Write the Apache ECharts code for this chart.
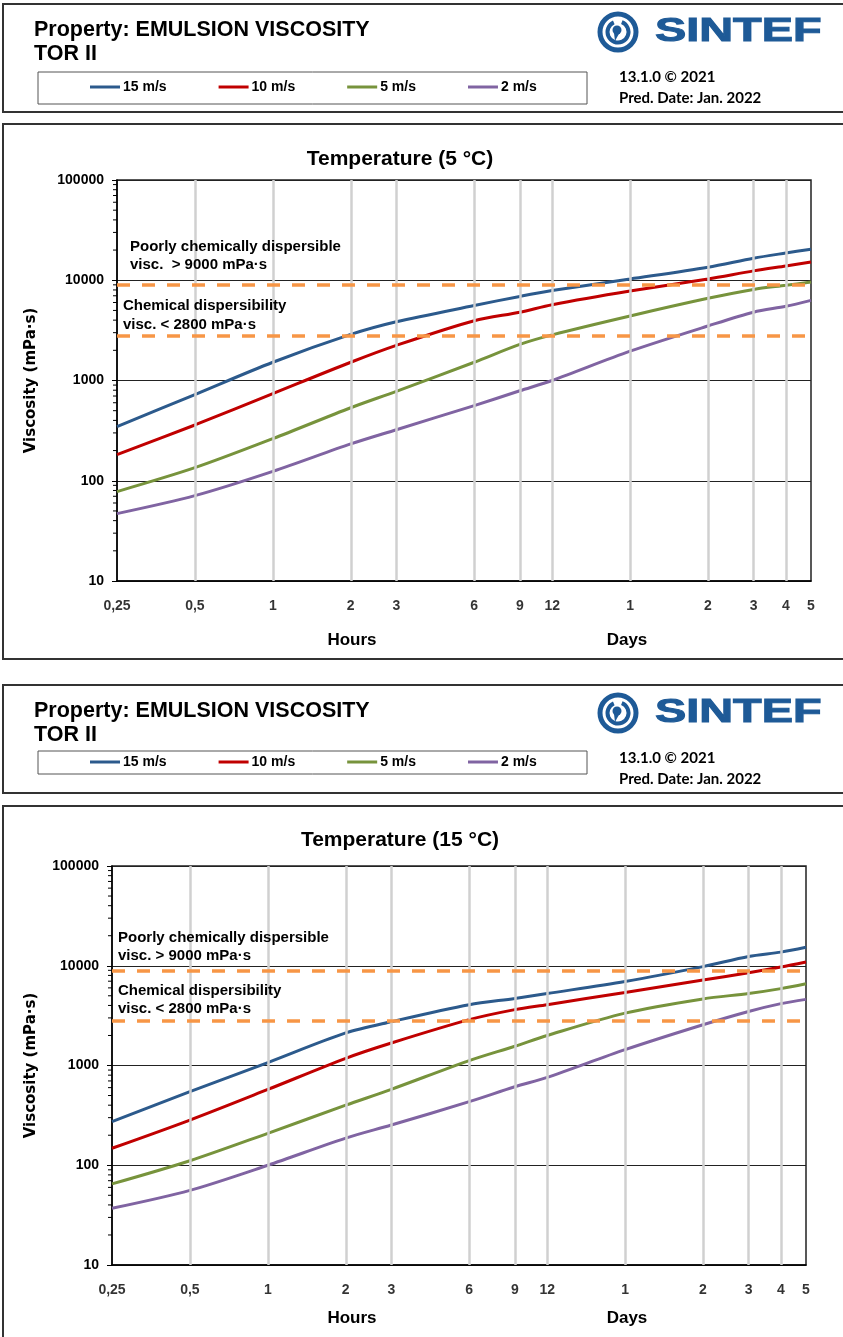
<!DOCTYPE html>
<html><head><meta charset="utf-8">
<script src="https://cdn.jsdelivr.net/npm/echarts@6/dist/echarts.min.js"></script>
<style>html,body{margin:0;padding:0;background:#fff}#c{width:843px;height:1337px}</style>
</head><body><div id="c"></div>
<script>
// ---- data ----
const hours = [0.25, 0.5, 1, 2, 3, 6, 9, 12, 24, 48, 72, 96, 120];
const tickHours = [0.25, 0.5, 1, 2, 3, 6, 9, 12, 24, 48, 72, 96, 120];
const tickLabels = ['0,25', '0,5', '1', '2', '3', '6', '9', '12', '1', '2', '3', '4', '5'];
const gridHours = [0.5, 1, 2, 3, 6, 9, 12, 24, 48, 72, 96];
const thresholds = [9000, 2800];
const seriesNames = ['15 m/s', '10 m/s', '5 m/s', '2 m/s'];
const seriesColors = ['#2C5A8C', '#C00000', '#77933C', '#8064A2'];
// Temperature 5 °C
const t5_15 = [347, 724, 1520, 2880, 3850, 5600, 6900, 7900, 10300, 13500, 16600, 18700, 20400];
const t5_10 = [182, 360, 740, 1520, 2240, 3950, 4800, 5700, 7800, 10300, 12400, 13900, 15200];
const t5_5  = [78, 135, 263, 535, 780, 1520, 2290, 2850, 4400, 6600, 8100, 8900, 9600];
const t5_2  = [47, 71, 124, 233, 323, 562, 790, 1000, 1960, 3500, 4800, 5500, 6300];
// Temperature 15 °C
const t15_15 = [274, 546, 1070, 2120, 2750, 4070, 4700, 5270, 6950, 9800, 12400, 13700, 15300];
const t15_10 = [148, 284, 575, 1180, 1680, 2880, 3630, 4070, 5400, 7200, 8500, 9700, 10900];
const t15_5  = [65, 111, 209, 400, 577, 1120, 1560, 2000, 3350, 4650, 5270, 5900, 6600];
const t15_2  = [37, 56, 100, 187, 253, 434, 612, 760, 1440, 2560, 3480, 4170, 4600];
const titles = ['Temperature (5 °C)', 'Temperature (15 °C)'];

const minorTicks = [];
[10, 100, 1000, 10000].forEach(d => { for (let k = 2; k <= 9; k++) minorTicks.push(d * k); });

const panels = [
  { hdrTop: 4, hdrBot: 112, boxTop: 124, boxBot: 659, gridLeft: 117, gridTop: 180, gridW: 694, gridH: 401,
    legBox: [72, 104], legMid: 88,
    title: titles[0], data: [t5_15, t5_10, t5_5, t5_2], titleY: 159, axisWordsY: 640,
    ann: [[130, 247, 'Poorly chemically dispersible'], [130, 265, 'visc.  > 9000 mPa·s'], [123, 306, 'Chemical dispersibility'], [123, 325, 'visc. < 2800 mPa·s']] },
  { hdrTop: 685, hdrBot: 793, boxTop: 806, boxBot: 1340, gridLeft: 112, gridTop: 866, gridW: 694, gridH: 399,
    legBox: [751, 774], legMid: 763,
    title: titles[1], data: [t15_15, t15_10, t15_5, t15_2], titleY: 840, axisWordsY: 1318,
    ann: [[118, 938, 'Poorly chemically dispersible'], [118, 956, 'visc. > 9000 mPa·s'], [118, 991, 'Chemical dispersibility'], [118, 1009, 'visc. < 2800 mPa·s']] }
];

const FONT = 'Liberation Sans, Arial, sans-serif';
const BLUE = '#1E5A97';
const grids = [], xAxes = [], yAxes = [], series = [], legends = [], graphics = [];

function logo(cx, cy) {
  return [
    { type: 'circle', shape: { cx, cy, r: 18 }, style: { fill: 'none', stroke: BLUE, lineWidth: 5 } },
    { type: 'arc', shape: { cx, cy, r: 10.5, startAngle: -1.2, endAngle: 4.3 }, style: { fill: 'none', stroke: BLUE, lineWidth: 4 } },
    { type: 'circle', shape: { cx: cx - 1, cy: cy - 2, r: 4.5 }, style: { fill: BLUE } },
    { type: 'polygon', shape: { points: [[cx + 2.5, cy - 1], [cx - 3, cy + 9], [cx - 4, cy + 1]] }, style: { fill: BLUE } }
  ];
}

panels.forEach((p, i) => {
  graphics.push({ type: 'rect', shape: { x: 3, y: p.hdrTop, width: 845, height: p.hdrBot - p.hdrTop }, style: { fill: 'none', stroke: '#333', lineWidth: 2 } });
  graphics.push({ type: 'rect', shape: { x: 3, y: p.boxTop, width: 845, height: p.boxBot - p.boxTop }, style: { fill: 'none', stroke: '#333', lineWidth: 2 } });
  graphics.push({ type: 'text', x: 34, y: p.hdrTop + 26, style: { text: 'Property: EMULSION VISCOSITY', font: 'bold 21.5px ' + FONT, fill: '#000', textVerticalAlign: 'middle' } });
  graphics.push({ type: 'text', x: 34, y: p.hdrTop + 50, style: { text: 'TOR II', font: 'bold 21.5px ' + FONT, fill: '#000', textVerticalAlign: 'middle' } });
  graphics.push({ type: 'rect', shape: { x: 38, y: p.legBox[0], width: 549, height: p.legBox[1] - p.legBox[0] }, style: { fill: 'none', stroke: '#555', lineWidth: 1 } });
  graphics.push(...logo(618, p.hdrTop + 28));
  graphics.push({ type: 'text', x: 655, y: p.hdrTop + 28, scaleX: 1.42, style: { text: 'SINTEF', font: '900 33px ' + FONT, fill: BLUE, textVerticalAlign: 'middle', stroke: BLUE, lineWidth: 1 } });
  graphics.push({ type: 'text', x: 619, y: p.hdrTop + 73, style: { text: '13.1.0 © 2021', font: 'bold 15px Lato, sans-serif', fill: '#000', textVerticalAlign: 'middle' } });
  graphics.push({ type: 'text', x: 619, y: p.hdrTop + 94, style: { text: 'Pred. Date: Jan. 2022', font: 'bold 15px Lato, sans-serif', fill: '#000', textVerticalAlign: 'middle' } });
  graphics.push({ type: 'text', x: 400, y: p.titleY, style: { text: p.title, font: 'bold 21px ' + FONT, fill: '#000', textAlign: 'center', textVerticalAlign: 'middle' } });
  graphics.push({ type: 'text', x: 352, y: p.axisWordsY, style: { text: 'Hours', font: 'bold 17px ' + FONT, fill: '#000', textAlign: 'center', textVerticalAlign: 'middle' } });
  graphics.push({ type: 'text', x: 627, y: p.axisWordsY, style: { text: 'Days', font: 'bold 17px ' + FONT, fill: '#000', textAlign: 'center', textVerticalAlign: 'middle' } });
  p.ann.forEach(a => graphics.push({ type: 'text', x: a[0], y: a[1], z: 10, style: { text: a[2], font: 'bold 15px ' + FONT, fill: '#000', textVerticalAlign: 'middle' } }));

  legends.push({
    data: seriesNames, left: 90, top: p.legMid - 8, padding: 0, itemWidth: 30, itemHeight: 3, itemGap: 52, icon: 'rect',
    selectedMode: false, textStyle: { fontSize: 14, fontWeight: 'bold', color: '#000', fontFamily: FONT, padding: [0, 0, 0, -2] }
  });

  grids.push({ left: p.gridLeft, top: p.gridTop, width: p.gridW, height: p.gridH, show: true, borderColor: '#222', borderWidth: 1.5, containLabel: false });
  xAxes.push({
    gridIndex: i, type: 'log', logBase: 2, min: 0.25, max: 120,
    axisLine: { show: true, onZero: false, lineStyle: { color: '#000', width: 1.5 } },
    axisTick: { show: false }, axisLabel: { show: false }, splitLine: { show: false }, minorTick: { show: false }
  });
  yAxes.push({
    gridIndex: i, type: 'log', logBase: 10, min: 10, max: 100000,
    name: 'Viscosity (mPa·s)', nameLocation: 'middle', nameGap: p.gridLeft - 39, nameRotate: 90,
    nameTextStyle: { fontFamily: 'DejaVu Sans, Verdana, sans-serif', fontWeight: 'bold', fontSize: 15, color: '#000' },
    axisLine: { show: true, lineStyle: { color: '#000', width: 1.5 } },
    axisTick: { show: true, inside: false, length: 5, lineStyle: { color: '#000' } },
    axisLabel: { fontFamily: FONT, fontWeight: 'bold', fontSize: 14, color: '#000', margin: 13, formatter: v => String(Math.round(v)) },
    splitLine: { show: true, lineStyle: { color: '#222', width: 1 } }
  });

  series.push({
    type: 'line', name: 'vgrid' + i, xAxisIndex: i, yAxisIndex: i, data: [], z: 1, silent: true,
    markLine: { silent: true, symbol: 'none', label: { show: false }, animation: false,
      lineStyle: { color: '#D0D0D0', width: 2.5, type: 'solid' }, data: gridHours.map(h => ({ xAxis: h })) }
  });
  series.push({
    type: 'line', name: 'thr' + i, xAxisIndex: i, yAxisIndex: i, data: [], z: 4, silent: true,
    markLine: { silent: true, symbol: 'none', label: { show: false }, animation: false,
      lineStyle: { color: '#F79646', width: 3.5, type: [13, 12] }, data: thresholds.map(v => ({ yAxis: v })) }
  });
  seriesNames.forEach((n, k) => {
    series.push({
      type: 'line', name: n, xAxisIndex: i, yAxisIndex: i, z: 3, smooth: 0.3, symbol: 'none', animation: false,
      color: seriesColors[k], lineStyle: { width: 3, color: seriesColors[k] },
      data: hours.map((h, j) => [h, p.data[k][j]])
    });
  });
  series.push({
    type: 'scatter', name: 'xlab' + i, xAxisIndex: i, yAxisIndex: i, symbolSize: 0, clip: false, silent: true, animation: false,
    data: tickHours.map(h => [h, 10]),
    label: { show: true, position: 'bottom', distance: 18, fontFamily: FONT, fontWeight: 'bold', fontSize: 14, color: '#000',
      formatter: prm => tickLabels[prm.dataIndex] }
  });
  series.push({
    type: 'custom', name: 'minor' + i, xAxisIndex: i, yAxisIndex: i, clip: false, silent: true, animation: false,
    data: minorTicks.map(v => [0.25, v]),
    renderItem: (params, api) => {
      const pt = api.coord([api.value(0), api.value(1)]);
      return { type: 'line', shape: { x1: pt[0] - 4, y1: pt[1], x2: pt[0], y2: pt[1] }, style: { stroke: '#000', lineWidth: 1 } };
    }
  });
});

const chart = echarts.init(document.getElementById('c'), null, { renderer: 'canvas' });
chart.setOption({
  animation: false,
  backgroundColor: '#fff',
  legend: legends,
  grid: grids,
  xAxis: xAxes,
  yAxis: yAxes,
  series: series,
  graphic: graphics
});
</script>
</body></html>
